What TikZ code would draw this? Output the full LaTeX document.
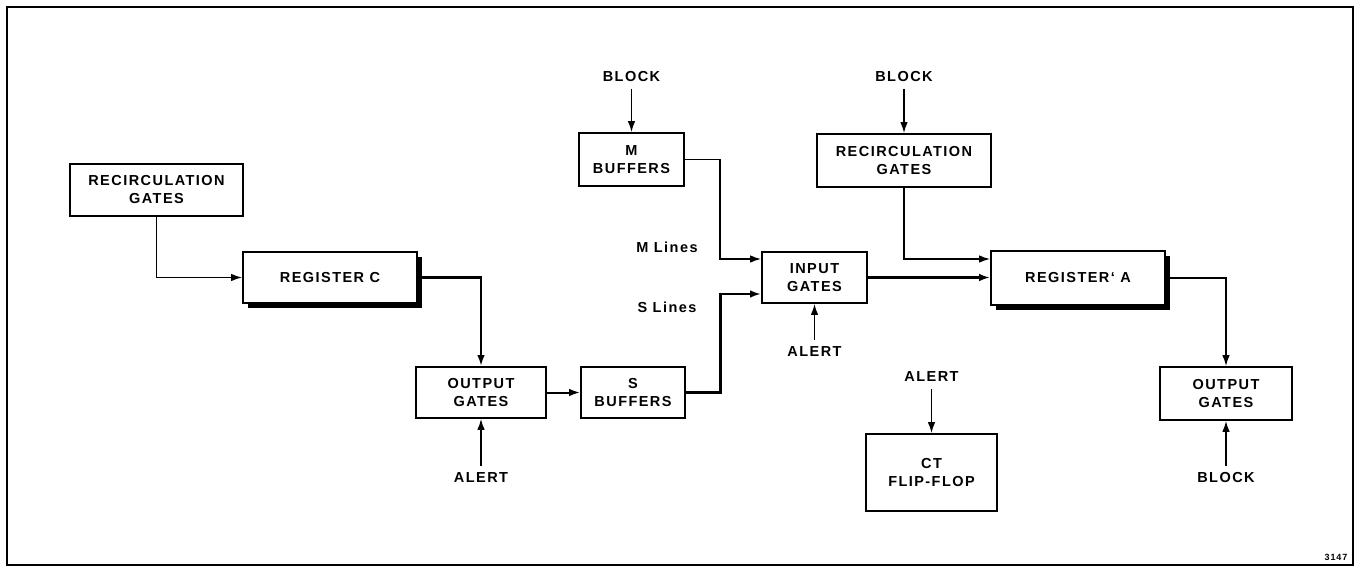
\documentclass[tikz,border=0pt]{standalone}
\usepackage{fontspec}
\setmainfont{Liberation Sans}[LetterSpace=10]
\usetikzlibrary{arrows.meta,calc,shadows}
\begin{document}
\begin{tikzpicture}[x=1pt,y=-1pt,
  font=\bfseries\fontsize{14.5}{18}\selectfont,
  box/.style={draw,line width=1.6pt,fill=white,align=center,inner sep=0pt},
  reg/.style={box,drop shadow={shadow xshift=5pt,shadow yshift=-5pt,fill=black,opacity=1}},
  lbl/.style={inner sep=0pt,outer sep=7pt},
  tip/.style={-{Latex[length=11pt,width=7.5pt]}},
  conn/.style={tip,line width=1.6pt},
  midconn/.style={tip,line width=2pt},
  heavyconn/.style={tip,line width=2.7pt}]
\useasboundingbox (0,0) rectangle (1361,572);
\draw[line width=2pt] (7,7) rectangle (1353,565);

% boxes
\node[box,minimum width=173pt,minimum height=52pt] (rgL) at (156.5,190) {RECIRCULATION\\GATES};
\node[reg,minimum width=174pt,minimum height=51pt] (regC) at (330,277.5) {REGISTER C};
\node[box,minimum width=130pt,minimum height=51pt] (ogC) at (481,392.5) {OUTPUT\\GATES};
\node[box,minimum width=104pt,minimum height=51pt] (sbuf) at (633,392.5) {S\\BUFFERS};
\node[box,minimum width=105pt,minimum height=53pt] (mbuf) at (631.5,159.5) {M\\BUFFERS};
\node[box,minimum width=105pt,minimum height=51pt] (ing) at (814.5,277.5) {INPUT\\GATES};
\node[box,minimum width=174pt,minimum height=53pt] (rgR) at (904,160.5) {RECIRCULATION\\GATES};
\node[reg,minimum width=174pt,minimum height=54pt] (regA) at (1078,278) {REGISTER` A};
\node[box,minimum width=132pt,minimum height=53pt] (ogA) at (1226,393.5) {OUTPUT\\GATES};
\node[box,minimum width=131pt,minimum height=77pt] (ct) at (931.5,472.5) {CT\\FLIP-FLOP};

% labels
\node[lbl] (b1) at (631.5,77) {BLOCK};
\node[lbl] (b2) at (904,77) {BLOCK};
\node[lbl] (b3) at (1226,478) {BLOCK};
\node[lbl] (a1) at (481,478) {ALERT};
\node[lbl] (a2) at (814.5,352) {ALERT};
\node[lbl] (a3) at (931.5,377) {ALERT};
\node[lbl,font=\bfseries\fontsize{14.5}{16}\selectfont] (ml) at (667,247) {M Lines};
\node[lbl,font=\bfseries\fontsize{14.5}{16}\selectfont] (sl) at (667,307) {S Lines};
\node[lbl,font=\bfseries\fontsize{9}{10}\selectfont] (num) at (1336,557) {3147};

% connectors
\draw[conn] (b1.south) -- (b1.south |- mbuf.north);
\draw[conn] (b2.south) -- (b2.south |- rgR.north);
\draw[conn] (a3.south) -- (a3.south |- ct.north);
\draw[conn] (a1.north) -- (a1.north |- ogC.south);
\draw[conn] (a2.north) -- (a2.north |- ing.south);
\draw[conn] (b3.north) -- (b3.north |- ogA.south);
\draw[conn] (rgL.south) |- (regC.west);
\draw[heavyconn] (regC.east) -| (ogC.north);
\draw[midconn] (ogC.east) -- (sbuf.west);
\draw[heavyconn] (sbuf.east) -- ++(35,0) |- ($(ing.west)+(0,16.5)$);
\draw[conn] (mbuf.east) -- ++(35,0) |- ($(ing.west)+(0,-18.5)$);
\draw[heavyconn] (ing.east) -- (ing.east -| regA.west);
\draw[conn] (rgR.south) |- ($(regA.west)+(0,-19)$);
\draw[conn] (regA.east) -| (ogA.north);
\end{tikzpicture}
\end{document}
